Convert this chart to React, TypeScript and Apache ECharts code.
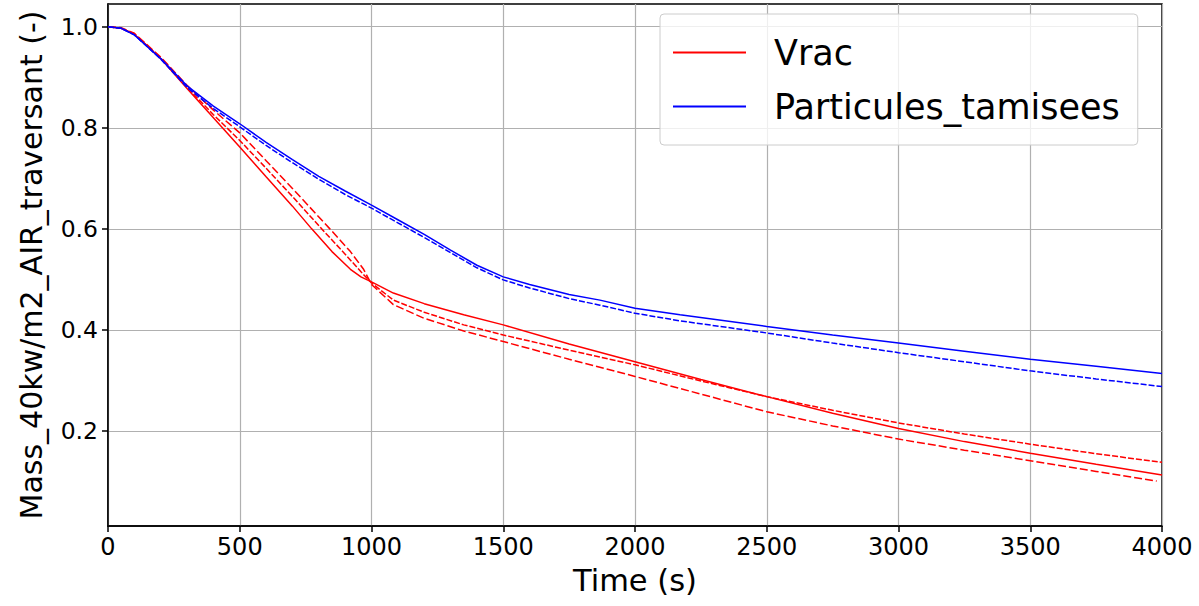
import React, { useEffect, useRef } from "react";
import * as echarts from "echarts";

// ---- Data ----
const vrac1Time = [0, 50, 100, 200, 300, 400, 500, 600, 700, 773, 850, 920, 960, 1000, 1083, 1200, 1350, 1500, 1750, 2000, 2250, 2500, 2750, 3000, 3250, 3500, 3750, 4000];
const vrac1Mass = [1.0, 0.997, 0.985, 0.937, 0.878, 0.82, 0.762, 0.703, 0.645, 0.6, 0.555, 0.52, 0.505, 0.495, 0.473, 0.452, 0.43, 0.41, 0.372, 0.337, 0.302, 0.268, 0.235, 0.205, 0.179, 0.156, 0.134, 0.113];

const vrac2Time = [0, 50, 100, 200, 300, 400, 500, 600, 700, 811, 900, 960, 1000, 1083, 1200, 1350, 1500, 1750, 2000, 2250, 2500, 2750, 3000, 3250, 3500, 3750, 4000];
const vrac2Mass = [1.0, 0.997, 0.986, 0.938, 0.88, 0.826, 0.775, 0.72, 0.664, 0.6, 0.55, 0.515, 0.493, 0.459, 0.435, 0.41, 0.39, 0.36, 0.331, 0.299, 0.268, 0.241, 0.216, 0.194, 0.174, 0.155, 0.138];

const vrac3Time = [0, 50, 100, 200, 300, 400, 500, 600, 700, 842, 920, 970, 1000, 1083, 1200, 1350, 1500, 1750, 2000, 2250, 2500, 2750, 3000, 3250, 3500, 3750, 3980];
const vrac3Mass = [1.0, 0.998, 0.987, 0.94, 0.884, 0.835, 0.79, 0.735, 0.68, 0.6, 0.555, 0.52, 0.49, 0.45, 0.423, 0.398, 0.377, 0.342, 0.308, 0.273, 0.238, 0.21, 0.184, 0.162, 0.141, 0.12, 0.101];

const part1Time = [0, 50, 100, 200, 300, 400, 500, 600, 700, 800, 900, 1000, 1100, 1200, 1300, 1400, 1500, 1600, 1750, 1867, 2000, 2171, 2500, 2750, 3000, 3250, 3500, 3750, 4000];
const part1Mass = [1.0, 0.997, 0.984, 0.937, 0.883, 0.843, 0.808, 0.771, 0.737, 0.704, 0.675, 0.647, 0.618, 0.589, 0.558, 0.528, 0.505, 0.49, 0.47, 0.459, 0.443, 0.43, 0.407, 0.39, 0.374, 0.358, 0.342, 0.328, 0.314];

const part2Time = [0, 50, 100, 200, 300, 400, 500, 600, 700, 800, 900, 1000, 1100, 1200, 1300, 1400, 1500, 1600, 1750, 1867, 2000, 2171, 2500, 2750, 3000, 3250, 3500, 3750, 4000];
const part2Mass = [1.0, 0.997, 0.984, 0.936, 0.88, 0.838, 0.802, 0.765, 0.731, 0.698, 0.668, 0.641, 0.612, 0.583, 0.553, 0.523, 0.499, 0.483, 0.462, 0.449, 0.433, 0.418, 0.394, 0.374, 0.355, 0.337, 0.319, 0.303, 0.288];

const yTicks = [0.2, 0.4, 0.6, 0.8, 1.0];
const xMin = 0;
const xMax = 4000;
const xStep = 500;
const yMin = 0.012;
const yMax = 1.045;

const seriesNames = ["Vrac", "Particules_tamisees"];
const xTitle = "Time (s)";
const yTitle = "Mass_40kw/m2_AIR_traversant (-)";

const zip = (t: number[], v: number[]) => t.map((x, i) => [x, v[i]]);

const FONT = "DejaVu Sans";

export default function App() {
  const ref = useRef<HTMLDivElement>(null);
  useEffect(() => {
    if (!ref.current) return;
    const chart = echarts.init(ref.current, null, { renderer: "svg" });
    const RED = "#ff0000";
    const BLUE = "#0000ff";
    const line = (name: string, data: number[][], color: string, type: any) => ({
      name,
      type: "line",
      data,
      symbol: "none",
      showSymbol: false,
      lineStyle: { color, width: 1.5, type },
      itemStyle: { color },
      z: 3,
    });
    chart.setOption({
      animation: false,
      backgroundColor: "#ffffff",
      textStyle: { fontFamily: FONT },
      grid: {
        left: 108,
        right: 37,
        top: 4,
        bottom: 80,
        show: true,
        borderColor: "#000",
        borderWidth: 1.5,
        backgroundColor: "transparent",
      },
      legend: {
        data: seriesNames,
        orient: "vertical",
        left: 660,
        top: 14,
        padding: [21, 18, 21, 13],
        itemWidth: 73,
        itemHeight: 2,
        itemGap: 19,
        icon: "rect",
        backgroundColor: "rgba(255,255,255,0.8)",
        borderColor: "#cccccc",
        borderWidth: 1,
        borderRadius: 4,
        textStyle: {
          fontFamily: FONT,
          fontSize: 35,
          color: "#000",
          lineHeight: 35,
          padding: [0, 0, 0, 23],
        },
        z: 10,
      },
      xAxis: {
        type: "value",
        min: xMin,
        max: xMax,
        interval: xStep,
        name: xTitle,
        nameLocation: "middle",
        nameGap: 39,
        nameTextStyle: { fontFamily: FONT, fontSize: 30.5, color: "#000" },
        axisLine: { show: true, lineStyle: { color: "#000", width: 1.5 } },
        axisTick: { show: true, inside: false, length: 6, lineStyle: { color: "#000", width: 1.5 } },
        axisLabel: {
          fontFamily: FONT,
          fontSize: 24,
          color: "#000",
          margin: 9,
          formatter: (v: number) => String(v),
        },
        splitLine: { show: true, lineStyle: { color: "#b0b0b0", width: 1.2 } },
      },
      yAxis: {
        type: "value",
        min: yMin,
        max: yMax,
        name: yTitle,
        nameLocation: "middle",
        nameGap: 62,
        nameTextStyle: { fontFamily: FONT, fontSize: 30, color: "#000" },
        axisLine: { show: true, lineStyle: { color: "#000", width: 1.5 } },
        axisTick: { show: true, inside: false, length: 6, customValues: yTicks, lineStyle: { color: "#000", width: 1.5 } },
        axisLabel: {
          fontFamily: FONT,
          fontSize: 23.5,
          color: "#000",
          margin: 10,
          customValues: yTicks,
          formatter: (v: number) => v.toFixed(1),
        },
        splitLine: { show: true, lineStyle: { color: "#b0b0b0", width: 1.2 } },
      },
      series: [
        line(seriesNames[0], zip(vrac1Time, vrac1Mass), RED, "solid"),
        line(seriesNames[0], zip(vrac2Time, vrac2Mass), RED, [6, 2]),
        line(seriesNames[0], zip(vrac3Time, vrac3Mass), RED, [8, 3]),
        line(seriesNames[1], zip(part1Time, part1Mass), BLUE, "solid"),
        line(seriesNames[1], zip(part2Time, part2Mass), BLUE, [6, 2]),
      ],
    });
    return () => chart.dispose();
  }, []);
  return (
    <div
      ref={ref}
      style={{ position: "fixed", left: 0, top: 0, width: 1199, height: 606, background: "#fff" }}
    />
  );
}
